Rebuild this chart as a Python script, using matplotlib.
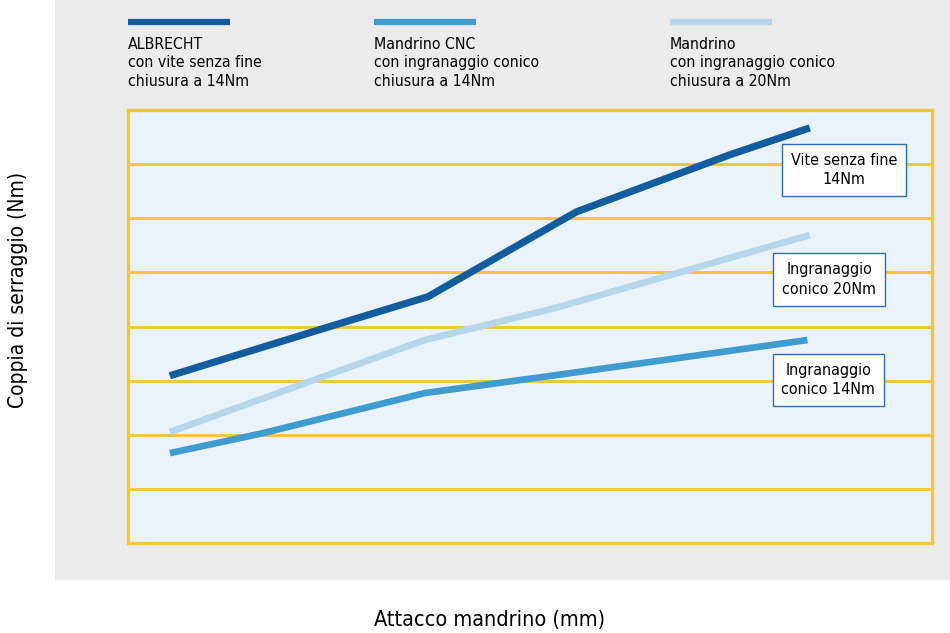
import matplotlib
matplotlib.use("Agg")
from matplotlib import pyplot as plt
from matplotlib.lines import Line2D
from matplotlib.patches import Rectangle

# dati (unita' arbitrarie, nessuna scala nell'originale)
serie_nomi = ["ALBRECHT\ncon vite senza fine\nchiusura a 14Nm",
              "Mandrino CNC\ncon ingranaggio conico\nchiusura a 14Nm",
              "Mandrino\ncon ingranaggio conico\nchiusura a 20Nm"]
albrecht_x = [0.52, 2.49, 3.73, 5.58, 7.48, 8.48]
albrecht_y = [3.09, 3.99, 4.55, 6.12, 7.17, 7.67]
cnc_x = [0.52, 1.68, 3.69, 5.17, 8.45]
cnc_y = [1.66, 2.03, 2.77, 3.07, 3.75]
mandrino_x = [0.52, 3.69, 5.31, 8.48]
mandrino_y = [2.05, 3.75, 4.34, 5.69]
etichette = ["Vite senza fine\n14Nm", "Ingranaggio\nconico 20Nm", "Ingranaggio\nconico 14Nm"]
etichette_xy = [(8.91, 6.89), (8.72, 4.87), (8.71, 3.01)]

colori = ["#135d9e", "#3f9bd0", "#b5d6eb"]
giallo = "#f3c63f"
plt.rcParams['font.family'] = ["DejaVu Sans"]
plt.rcParams['font.stretch'] = "condensed"

fig = plt.figure(figsize=(9.5, 6.33), dpi=100)
W, H = 950, 633

# pannello grigio
fig.add_artist(Rectangle((55 / W, 1 - 580 / H), 1 - 55 / W, 580 / H,
                         transform=fig.transFigure, facecolor="#ebebeb",
                         edgecolor="none", zorder=0))

ax = fig.add_axes([128 / W, 1 - 543 / H, (932 - 128) / W, (543 - 110) / H])
ax.set_facecolor("#ebf3fa")
ax.set_xlim(0, 10)
ax.set_ylim(0, 8)
for y in range(1, 8):
    ax.axhline(y, color=giallo, lw=2.2, zorder=1)
for s in ax.spines.values():
    s.set_color(giallo)
    s.set_linewidth(2.4)
ax.set_xticks([])
ax.set_yticks([])

ax.plot(mandrino_x, mandrino_y, color=colori[2], lw=4.8, solid_capstyle="butt", zorder=3)
ax.plot(cnc_x, cnc_y, color=colori[1], lw=4.8, solid_capstyle="butt", zorder=3)
ax.plot(albrecht_x, albrecht_y, color=colori[0], lw=5.2, solid_capstyle="butt", zorder=4)

for testo, (x, y) in zip(etichette, etichette_xy):
    ax.text(x, y, testo, ha="center", va="center", fontsize=11.5, linespacing=1.4,
            zorder=5, bbox=dict(boxstyle="square,pad=0.55", facecolor="white",
                                edgecolor="#2a6fb5", linewidth=1.0))

# legenda in alto
legenda_x = [128, 374, 670]
for nome, col, x0 in zip(serie_nomi, colori, legenda_x):
    fig.add_artist(Line2D([x0 / W, (x0 + 102) / W], [1 - 22 / H, 1 - 22 / H],
                          transform=fig.transFigure, color=col, lw=4.5,
                          solid_capstyle="butt"))
    fig.text(x0 / W, 1 - 37 / H, nome, ha="left", va="top", fontsize=11.3,
             linespacing=1.28)

fig.text(490 / W, 1 - 620 / H, "Attacco mandrino (mm)", ha="center", va="center",
         fontsize=15.5)
fig.text(18 / W, 1 - 290 / H, "Coppia di serraggio (Nm)", ha="center", va="center",
         rotation=90, fontsize=15)

fig.savefig("out.png", dpi=100)
